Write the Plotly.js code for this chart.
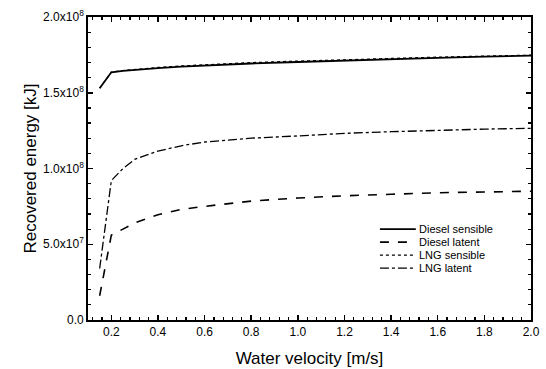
<!DOCTYPE html>
<html><head><meta charset="utf-8">
<script src="https://cdn.plot.ly/plotly-3.0.1.min.js"></script>
<style>body{margin:0;background:#fff}#c{width:546px;height:369px}</style>
</head><body><div id="c"></div>
<script>
var velocity = [0.15, 0.2, 0.25, 0.3, 0.4, 0.5, 0.6, 0.7, 0.8, 1.0, 1.2, 1.4, 1.6, 1.8, 2.0];
var dieselSensible = [1.53e8, 1.635e8, 1.645e8, 1.652e8, 1.663e8, 1.672e8, 1.68e8, 1.687e8, 1.693e8, 1.703e8, 1.713e8, 1.722e8, 1.73e8, 1.738e8, 1.745e8];
var lngSensible = [1.53e8, 1.636e8, 1.647e8, 1.655e8, 1.667e8, 1.677e8, 1.686e8, 1.693e8, 1.699e8, 1.709e8, 1.719e8, 1.728e8, 1.735e8, 1.742e8, 1.748e8];
var dieselLatent = [1.6e7, 5.6e7, 6.0e7, 6.4e7, 6.95e7, 7.3e7, 7.5e7, 7.7e7, 7.85e7, 8.05e7, 8.2e7, 8.3e7, 8.4e7, 8.45e7, 8.5e7];
var lngLatent = [3.4e7, 9.2e7, 1.0e8, 1.06e8, 1.115e8, 1.15e8, 1.175e8, 1.19e8, 1.2e8, 1.215e8, 1.232e8, 1.243e8, 1.253e8, 1.26e8, 1.265e8];
var seriesNames = ["Diesel sensible", "Diesel latent", "LNG sensible", "LNG latent"];
var seriesDash = ["solid", "dash", "dot", "dashdot"];
var seriesWidth = [1.8, 1.6, 1.2, 1.3];
var yTickVals = [0, 5e7, 1e8, 1.5e8, 2e8];
var yTickText = ["0.0", "5.0x10<sup>7</sup>", "1.0x10<sup>8</sup>", "1.5x10<sup>8</sup>", "2.0x10<sup>8</sup>"];

var fnt = "Liberation Sans, Arial, sans-serif";
var ys = [dieselSensible, dieselLatent, lngSensible, lngLatent];
var traces = ys.map(function (y, i) {
  return {x: velocity, y: y, name: seriesNames[i], mode: "lines",
    line: {color: "#000", width: seriesWidth[i], dash: seriesDash[i]}};
});

// compact legend (reference rows are tighter than Plotly's legend allows)
var legX0 = 0.659, legX1 = 0.740, legTextX = 0.745, legY0 = 0.300, legStep = 0.0429;
var shapes = [], annotations = [];
seriesNames.forEach(function (n, i) {
  var yy = legY0 - i * legStep;
  shapes.push({type: "line", xref: "paper", yref: "paper", x0: legX0, x1: legX1, y0: yy, y1: yy,
    line: {color: "#000", width: seriesWidth[i], dash: seriesDash[i]}});
  annotations.push({xref: "paper", yref: "paper", x: legTextX, y: yy, xanchor: "left", yanchor: "middle",
    text: n, showarrow: false, borderpad: 0, font: {family: fnt, size: 11, color: "#000"}});
});

var axCommon = {showline: true, linecolor: "#000", linewidth: 1.8, mirror: "allticks", ticks: "inside",
  ticklen: 5, tickwidth: 1.5, tickcolor: "#000", showgrid: false, zeroline: false,
  tickfont: {family: fnt, size: 12, color: "#000"}};
var layout = {
  width: 546, height: 369,
  margin: {l: 88, r: 15, t: 17, b: 49},
  paper_bgcolor: "#fff", plot_bgcolor: "#fff",
  showlegend: false,
  shapes: shapes, annotations: annotations,
  xaxis: Object.assign({}, axCommon, {range: [0.1, 2.0], tick0: 0.2, dtick: 0.2, tickformat: ".1f",
    minor: {dtick: 0.04, tick0: 0.2, ticks: "inside", ticklen: 3, tickcolor: "#000", tickwidth: 1.2},
    title: {text: "Water velocity [m/s]", font: {family: fnt, size: 17, color: "#000"}, standoff: 14}}),
  yaxis: Object.assign({}, axCommon, {range: [0, 2e8], tickvals: yTickVals, ticktext: yTickText,
    minor: {dtick: 1e7, tick0: 0, ticks: "inside", ticklen: 3, tickcolor: "#000", tickwidth: 1.2},
    title: {text: "Recovered energy [kJ]", font: {family: fnt, size: 17, color: "#000"}, standoff: 2}})
};
Plotly.newPlot("c", traces, layout, {staticPlot: true, displayModeBar: false});
</script></body></html>
